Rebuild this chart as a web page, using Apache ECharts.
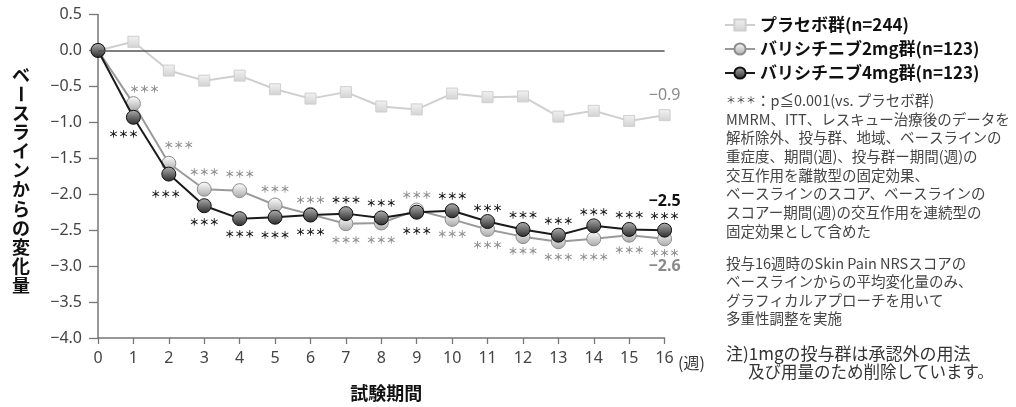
<!DOCTYPE html>
<html><head><meta charset="utf-8">
<script src="https://cdn.jsdelivr.net/npm/echarts@6/dist/echarts.min.js"></script>
<style>html,body{margin:0;padding:0;background:#fff}#c{width:1016px;height:407px}</style>
</head><body><div id="c"></div>
<script>
// ---- data ----
const weeks = [0,1,2,3,4,5,6,7,8,9,10,11,12,13,14,15,16];
const placebo = [0, 0.12, -0.28, -0.42, -0.35, -0.54, -0.67, -0.58, -0.78, -0.82, -0.60, -0.65, -0.64, -0.92, -0.84, -0.98, -0.90];
const bari2mg = [0, -0.74, -1.57, -1.93, -1.95, -2.15, -2.28, -2.41, -2.40, -2.22, -2.35, -2.49, -2.59, -2.66, -2.62, -2.57, -2.62];
const bari4mg = [0, -0.93, -1.72, -2.16, -2.34, -2.32, -2.29, -2.27, -2.33, -2.25, -2.23, -2.38, -2.49, -2.57, -2.44, -2.49, -2.50];
const seriesNames = ['プラセボ群(n=244)', 'バリシチニブ2mg群(n=123)', 'バリシチニブ4mg群(n=123)'];
const sigMark = '＊＊＊';
const endLabels = ['−0.9', '−2.5', '−2.6'];
const yTitle = 'ベースラインからの変化量';
const xTitle = '試験期間';
const xUnit = '(週)';
const notes1 = [
  '{s|＊＊＊}：p≦0.001(vs. プラセボ群)',
  'MMRM、ITT、レスキュー治療後のデータを',
  '解析除外、投与群、地域、ベースラインの',
  '重症度、期間(週)、投与群ー期間(週)の',
  '交互作用を離散型の固定効果、',
  'ベースラインのスコア、ベースラインの',
  'スコアー期間(週)の交互作用を連続型の',
  '固定効果として含めた'
];
const notes2 = [
  '投与16週時のSkin Pain NRSスコアの',
  'ベースラインからの平均変化量のみ、',
  'グラフィカルアプローチを用いて',
  '多重性調整を実施'
];
const notes3a = '注)1mgの投与群は承認外の用法';
const notes3b = '及び用量のため削除しています。';

// ---- layout of significance marks (pixel offsets from the point) ----
const star2dy = [0,-14,-18,-17,-16,-16,-14,17,17,-15,15,16,15,16,18,15,14];
const star2dx = [0,11,10,0,0,0,0,0,0,0,0,0,0,0,0,0,0];
const star4dy = [0,17,20,16,16,18,17,-13,-15,19,-15,-13,-14,-14,-14,-14,-14];
const star4dx = [0,-10,-3,0,0,0,0,0,0,0,0,0,0,0,0,0,0];

const JP = '"Noto Sans CJK JP", "Noto Sans", sans-serif';
const NUM = '"Noto Sans", "DejaVu Sans", sans-serif';

function grad(c1, c2) {
  return {type:'linear', x:0, y:0, x2:0, y2:1, colorStops:[{offset:0,color:c1},{offset:1,color:c2}]};
}
function withStars(vals, dx, dy) {
  return vals.map((v,i) => ({
    value:[weeks[i], v],
    label:{show: i > 0, offset:[dx[i], dy[i]]}
  }));
}
function fmtNum(v) { return v.toFixed(1).replace('-', '−'); }

const chart = echarts.init(document.getElementById('c'), null, {renderer:'canvas'});

const graphic = [];
// vertical y-axis title
yTitle.split('').forEach((ch, i) => {
  graphic.push({
    type:'text', x:21, y:75 + i*19.1,
    rotation: ch === 'ー' ? -Math.PI/2 : 0,
    style:{text:ch, fontFamily:JP, fontSize:18, fontWeight:'bold', fill:'#111', align:'center', verticalAlign:'middle'}
  });
});
graphic.push({type:'text', x:678, y:363, style:{text:xUnit, fontFamily:JP, fontSize:16, fill:'#333', align:'left', verticalAlign:'middle'}});
graphic.push({type:'text', x:726, y:91, style:{text:notes1.join('\n'), fontFamily:JP, fontSize:14.5, lineHeight:18.7, fill:'#444',
  rich:{s:{fontSize:10, fontFamily:JP, fill:'#444', lineHeight:18.7}}}});
graphic.push({type:'text', x:726, y:254, style:{text:notes2.join('\n'), fontFamily:JP, fontSize:14.5, lineHeight:18.5, fill:'#444'}});
graphic.push({type:'text', x:726, y:344, style:{text:notes3a, fontFamily:JP, fontSize:17, lineHeight:18.7, fill:'#333'}});
graphic.push({type:'text', x:748, y:362.5, style:{text:notes3b, fontFamily:JP, fontSize:16.5, lineHeight:18.7, fill:'#333'}});

const option = {
  backgroundColor:'#fff',
  animation:false,
  grid:{left:98, right:351.4, top:14.5, bottom:65.5},
  legend:{
    orient:'vertical', left:719, top:11, itemWidth:30, itemHeight:14, itemGap:6,
    textStyle:{fontFamily:JP, fontSize:17, fontWeight:'bold', color:'#111', lineHeight:18},
    data: seriesNames
  },
  xAxis:{
    type:'value', min:0, max:16, interval:1,
    name:xTitle, nameLocation:'middle', nameGap:46,
    nameTextStyle:{fontFamily:JP, fontSize:18, fontWeight:'bold', color:'#111', padding:[0,0,0,10]},
    axisLine:{onZero:false, lineStyle:{color:'#777', width:1.5}},
    axisTick:{show:true, length:6, lineStyle:{color:'#777', width:1.3}},
    axisLabel:{fontFamily:NUM, fontSize:16, color:'#444', margin:12},
    splitLine:{show:false}
  },
  yAxis:{
    type:'value', min:-4, max:0.5, interval:0.5,
    axisLine:{show:true, lineStyle:{color:'#777', width:1.5}},
    axisTick:{show:true, length:9, lineStyle:{color:'#777', width:1.3}},
    axisLabel:{fontFamily:NUM, fontSize:16, color:'#444', margin:16, formatter:fmtNum},
    splitLine:{show:false}
  },
  graphic: graphic,
  series:[
    {
      name:seriesNames[0], type:'line', z:2,
      data: placebo.map((v,i)=>[weeks[i], v]),
      symbol:'rect', symbolSize:11,
      lineStyle:{color:'#cfcfcf', width:2},
      itemStyle:{color:grad('#f2f2f2','#d2d2d2'), borderColor:'#cfcfcf', borderWidth:1},
      markLine:{
        silent:true, symbol:'none', label:{show:false},
        lineStyle:{color:'#555', width:1.5, type:'solid'},
        data:[{yAxis:0}]
      },
      markPoint:{
        symbol:'circle', symbolSize:0, silent:true,
        label:{show:true, position:'inside', offset:[0,-20], formatter:endLabels[0], fontFamily:NUM, fontSize:16, color:'#8a8a8a'},
        data:[{coord:[weeks[16], placebo[16]]}]
      }
    },
    {
      name:seriesNames[1], type:'line', z:3,
      data: withStars(bari2mg, star2dx, star2dy),
      symbol:'circle', symbolSize:14,
      lineStyle:{color:'#9a9a9a', width:2},
      itemStyle:{color:grad('#ffffff','#a8a8a8'), borderColor:'#8c8c8c', borderWidth:1},
      label:{show:true, position:'inside', formatter:sigMark, fontFamily:JP, fontSize:10, fontWeight:'bold', color:'#8f8f8f'},
      markPoint:{
        symbol:'circle', symbolSize:0, silent:true,
        label:{show:true, position:'inside', offset:[0,28], formatter:endLabels[2], fontFamily:NUM, fontSize:16, fontWeight:'bold', color:'#8a8a8a'},
        data:[{coord:[weeks[16], bari2mg[16]]}]
      }
    },
    {
      name:seriesNames[2], type:'line', z:4,
      data: withStars(bari4mg, star4dx, star4dy),
      symbol:'circle', symbolSize:14,
      lineStyle:{color:'#1a1a1a', width:2},
      itemStyle:{color:grad('#b0b0b0','#2a2a2a'), borderColor:'#111', borderWidth:1},
      label:{show:true, position:'inside', formatter:sigMark, fontFamily:JP, fontSize:10, fontWeight:'bold', color:'#1a1a1a'},
      markPoint:{
        symbol:'circle', symbolSize:0, silent:true,
        label:{show:true, position:'inside', offset:[0,-29], formatter:endLabels[1], fontFamily:NUM, fontSize:16, fontWeight:'bold', color:'#111'},
        data:[{coord:[weeks[16], bari4mg[16]]}]
      }
    }
  ]
};
chart.setOption(option);
</script>
</body></html>
